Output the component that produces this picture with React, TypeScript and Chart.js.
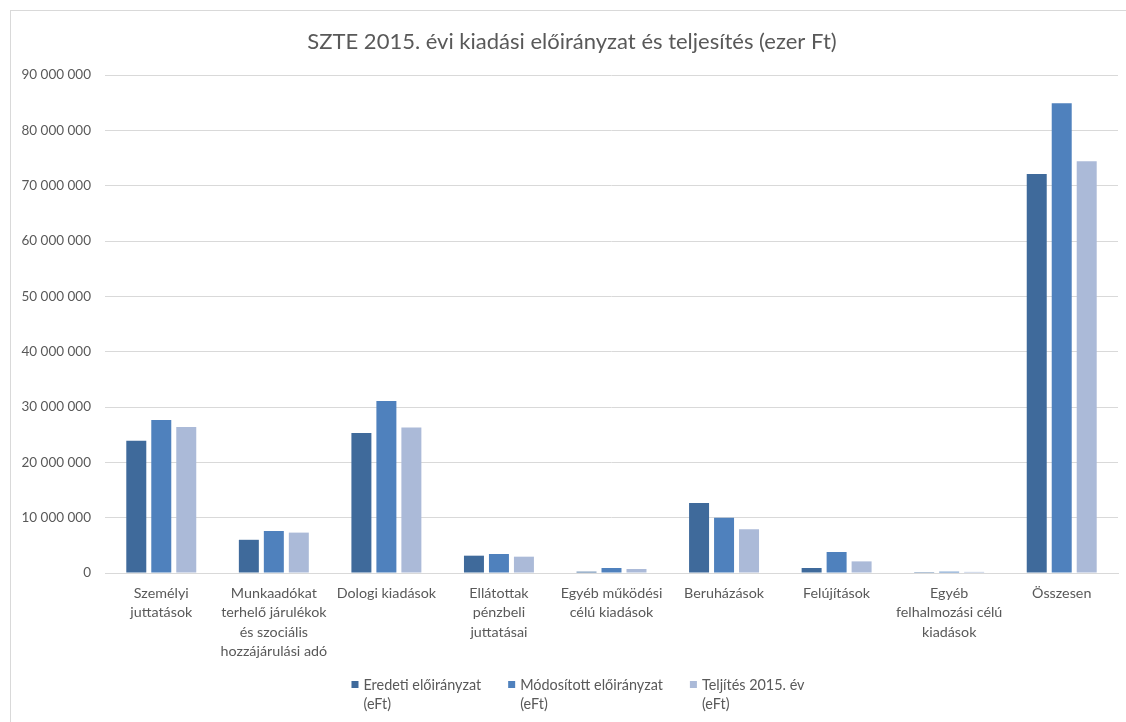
import React, { useEffect, useRef } from "react";
import { Chart, registerables } from "chart.js";

Chart.register(...registerables);

const titleText = "SZTE 2015. évi kiadási előirányzat és teljesítés (ezer Ft)";

const categories: string[][] = [
  ["Személyi", "juttatások"],
  ["Munkaadókat", "terhelő járulékok", "és szociális", "hozzájárulási adó"],
  ["Dologi kiadások"],
  ["Ellátottak", "pénzbeli", "juttatásai"],
  ["Egyéb működési", "célú kiadások"],
  ["Beruházások"],
  ["Felújítások"],
  ["Egyéb", "felhalmozási célú", "kiadások"],
  ["Összesen"],
];

const seriesNames: string[][] = [
  ["Eredeti előirányzat", "(eFt)"],
  ["Módosított előirányzat", "(eFt)"],
  ["Teljítés 2015. év", "(eFt)"],
];

const eredeti = [23900000, 6000000, 25300000, 3130000, 240000, 12650000, 900000, 20000, 72100000];
const modositott = [27650000, 7600000, 31100000, 3430000, 900000, 10000000, 3800000, 240000, 84900000];
const teljesites = [26400000, 7300000, 26300000, 2950000, 720000, 7900000, 2100000, 200000, 74400000];

const seriesColors = ["#3F6A9B", "#4F81BD", "#ABBAD8"];

const yMin = 0;
const yMax = 90000000;
const yStep = 10000000;

const FONT = "Lato, 'Noto Sans', sans-serif";
const TEXT_COLOR = "#595959";
const GRID_COLOR = "#D9D9D9";

function formatTick(v: number): string {
  return String(Math.round(v)).replace(/\B(?=(\d{3})+(?!\d))/g, " ");
}

const decorPlugin = {
  id: "decor",
  afterDraw(chart: any) {
    const ctx = chart.ctx as CanvasRenderingContext2D;
    ctx.save();
    // chart border
    ctx.strokeStyle = GRID_COLOR;
    ctx.lineWidth = 1;
    ctx.strokeRect(10.5, 10.5, 1300, 900);
    // title
    ctx.fillStyle = TEXT_COLOR;
    ctx.font = `22px ${FONT}`;
    ctx.textAlign = "center";
    ctx.textBaseline = "middle";
    ctx.fillText(titleText, 572, 42);
    // legend
    ctx.font = `14.4px ${FONT}`;
    ctx.textAlign = "left";
    const items = chart.data.datasets.map((ds: any, i: number) => {
      const lines = seriesNames[i];
      const w = Math.max(...lines.map((l) => ctx.measureText(l).width));
      return { lines, w, color: ds.backgroundColor };
    });
    const gap = 27;
    const total = items.reduce((s: number, it: any) => s + 12 + it.w, 0) + gap * (items.length - 1);
    let x = 578 - total / 2;
    items.forEach((it: any) => {
      ctx.fillStyle = it.color;
      ctx.fillRect(x, 681, 7, 7);
      ctx.fillStyle = TEXT_COLOR;
      it.lines.forEach((l: string, k: number) => {
        ctx.fillText(l, x + 12, 685 + k * 19);
      });
      x += 12 + it.w + gap;
    });
    ctx.restore();
  },
};

export default function App() {
  const ref = useRef<HTMLCanvasElement | null>(null);

  useEffect(() => {
    if (!ref.current) return;
    const chart = new Chart(ref.current, {
      type: "bar",
      data: {
        labels: categories,
        datasets: [eredeti, modositott, teljesites].map((d, i) => ({
          label: seriesNames[i].join(" "),
          data: d,
          backgroundColor: seriesColors[i],
          borderWidth: 0,
          categoryPercentage: 0.666,
          barPercentage: 0.8,
        })),
      },
      options: {
        animation: false,
        responsive: false,
        maintainAspectRatio: false,
        layout: { padding: { top: 75, right: 8, bottom: 0, left: 0 } },
        plugins: {
          legend: { display: false },
          title: { display: false },
          tooltip: { enabled: false },
        },
        scales: {
          x: {
            grid: { display: false },
            border: { display: true, color: GRID_COLOR },
            ticks: {
              color: TEXT_COLOR,
              font: { family: FONT, size: 14.3, lineHeight: 1.34 },
              maxRotation: 0,
              autoSkip: false,
              padding: 3,
            },
            afterFit(scale: any) {
              scale.height = 149;
            },
          },
          y: {
            min: yMin,
            max: yMax,
            grid: { color: GRID_COLOR, drawTicks: false },
            border: { display: false },
            ticks: {
              stepSize: yStep,
              color: TEXT_COLOR,
              font: { family: FONT, size: 13.5 },
              padding: 14,
              callback: (v: any) => formatTick(Number(v)),
            },
            afterFit(scale: any) {
              scale.width = 105;
            },
          },
        },
      },
      plugins: [decorPlugin],
    });
    return () => chart.destroy();
  }, []);

  return (
    <div style={{ position: "fixed", left: 0, top: 0, width: 1126, height: 722, background: "#fff" }}>
      <canvas ref={ref} width={1126} height={722} style={{ display: "block" }} />
    </div>
  );
}
